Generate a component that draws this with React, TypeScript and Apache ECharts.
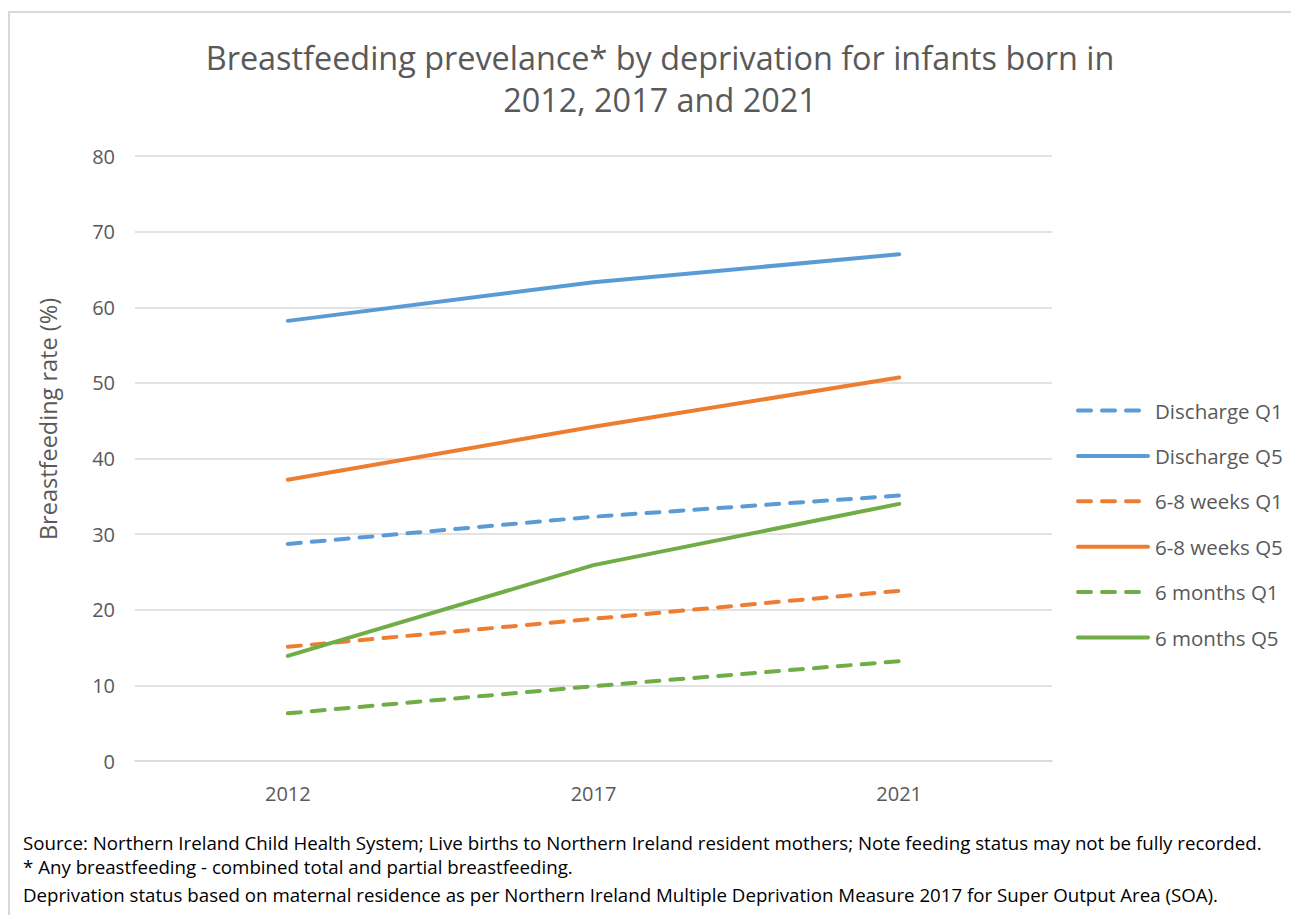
import React, { useEffect, useRef } from "react";
import * as echarts from "echarts";

const years = ["2012", "2017", "2021"];
const dischargeQ1 = [28.7, 32.3, 35.1];
const dischargeQ5 = [58.2, 63.3, 67.0];
const weeksQ1 = [15.1, 18.8, 22.5];
const weeksQ5 = [37.2, 44.2, 50.7];
const monthsQ1 = [6.3, 9.9, 13.2];
const monthsQ5 = [13.9, 25.9, 34.0];

const titleLines = [
  "Breastfeeding prevelance* by deprivation for infants born in",
  "2012, 2017 and 2021",
];
const footnotes = [
  "Source: Northern Ireland Child Health System; Live births to Northern Ireland resident mothers; Note feeding status may not be fully recorded.",
  "* Any breastfeeding - combined total and partial breastfeeding.",
  "Deprivation status based on maternal residence as per Northern Ireland Multiple Deprivation Measure 2017 for Super Output Area (SOA).",
];

const BLUE = "#5b9bd5";
const ORANGE = "#ed7d31";
const GREEN = "#70ad47";
const TEXT = "#595959";
const FONT = "'Open Sans', sans-serif";

export default function App() {
  const ref = useRef<HTMLDivElement>(null);
  useEffect(() => {
    if (!ref.current) return;
    const chart = echarts.init(ref.current, undefined, { renderer: "svg" });
    const mk = (name: string, data: number[], color: string, dashed: boolean) => ({
      name,
      type: "line",
      data,
      symbol: "none",
      lineStyle: {
        color,
        width: 4,
        type: dashed ? [13, 11] : "solid",
        cap: "round",
      },
      itemStyle: { color },
    });
    chart.setOption({
      animation: false,
      backgroundColor: "#ffffff",
      textStyle: { fontFamily: FONT },
      grid: { left: 127, right: 247, top: 148, bottom: 154, containLabel: false },
      xAxis: {
        type: "category",
        data: years,
        boundaryGap: true,
        axisLine: { show: true, lineStyle: { color: "#d9d9d9", width: 1.5 } },
        axisTick: { show: false },
        axisLabel: { color: TEXT, fontSize: 20, margin: 22, fontFamily: FONT },
      },
      yAxis: {
        type: "value",
        min: 0,
        max: 80,
        interval: 10,
        axisLine: { show: false },
        axisTick: { show: false },
        axisLabel: { color: TEXT, fontSize: 20, margin: 20, fontFamily: FONT },
        splitLine: { lineStyle: { color: "#d9d9d9", width: 1.5 } },
      },
      legend: {
        orient: "vertical",
        left: 1063,
        top: 387,
        itemWidth: 70,
        itemHeight: 20,
        itemGap: 24.4,
        itemStyle: { opacity: 0 },
        lineStyle: { width: 4, cap: "round" },
        textStyle: { color: TEXT, fontSize: 20.5, fontFamily: FONT, padding: [0, 0, 0, 2] },
        data: [
          "Discharge Q1",
          "Discharge Q5",
          "6-8 weeks Q1",
          "6-8 weeks Q5",
          "6 months Q1",
          "6 months Q5",
        ],
      },
      graphic: [
        {
          type: "rect",
          silent: true,
          shape: { x: 1, y: 4, width: 1400, height: 1000 },
          style: { fill: "none", stroke: "#d9d9d9", lineWidth: 2 },
        },
        {
          type: "text",
          silent: true,
          x: 652,
          y: 27.5,
          style: {
            text: titleLines.join("\n"),
            textAlign: "center",
            textVerticalAlign: "top",
            fill: TEXT,
            font: `32.4px ${FONT}`,
            lineHeight: 42,
          },
        },
        {
          type: "text",
          silent: true,
          x: 40,
          y: 411,
          rotation: Math.PI / 2,
          style: {
            text: "Breastfeeding rate (%)",
            textAlign: "center",
            textVerticalAlign: "middle",
            fill: TEXT,
            font: `23.5px ${FONT}`,
          },
        },
        ...footnotes.map((t, i) => ({
          type: "text",
          silent: true,
          x: 15,
          y: [834, 858, 886.5][i],
          style: {
            text: t,
            textAlign: "left",
            textVerticalAlign: "middle",
            fill: "#000000",
            font: `18.7px ${FONT}`,
          },
        })),
      ],
      series: [
        mk("Discharge Q1", dischargeQ1, BLUE, true),
        mk("Discharge Q5", dischargeQ5, BLUE, false),
        mk("6-8 weeks Q1", weeksQ1, ORANGE, true),
        mk("6-8 weeks Q5", weeksQ5, ORANGE, false),
        mk("6 months Q1", monthsQ1, GREEN, true),
        mk("6 months Q5", monthsQ5, GREEN, false),
      ],
    });
    return () => chart.dispose();
  }, []);
  return <div ref={ref} style={{ width: 1291, height: 907 }} />;
}
